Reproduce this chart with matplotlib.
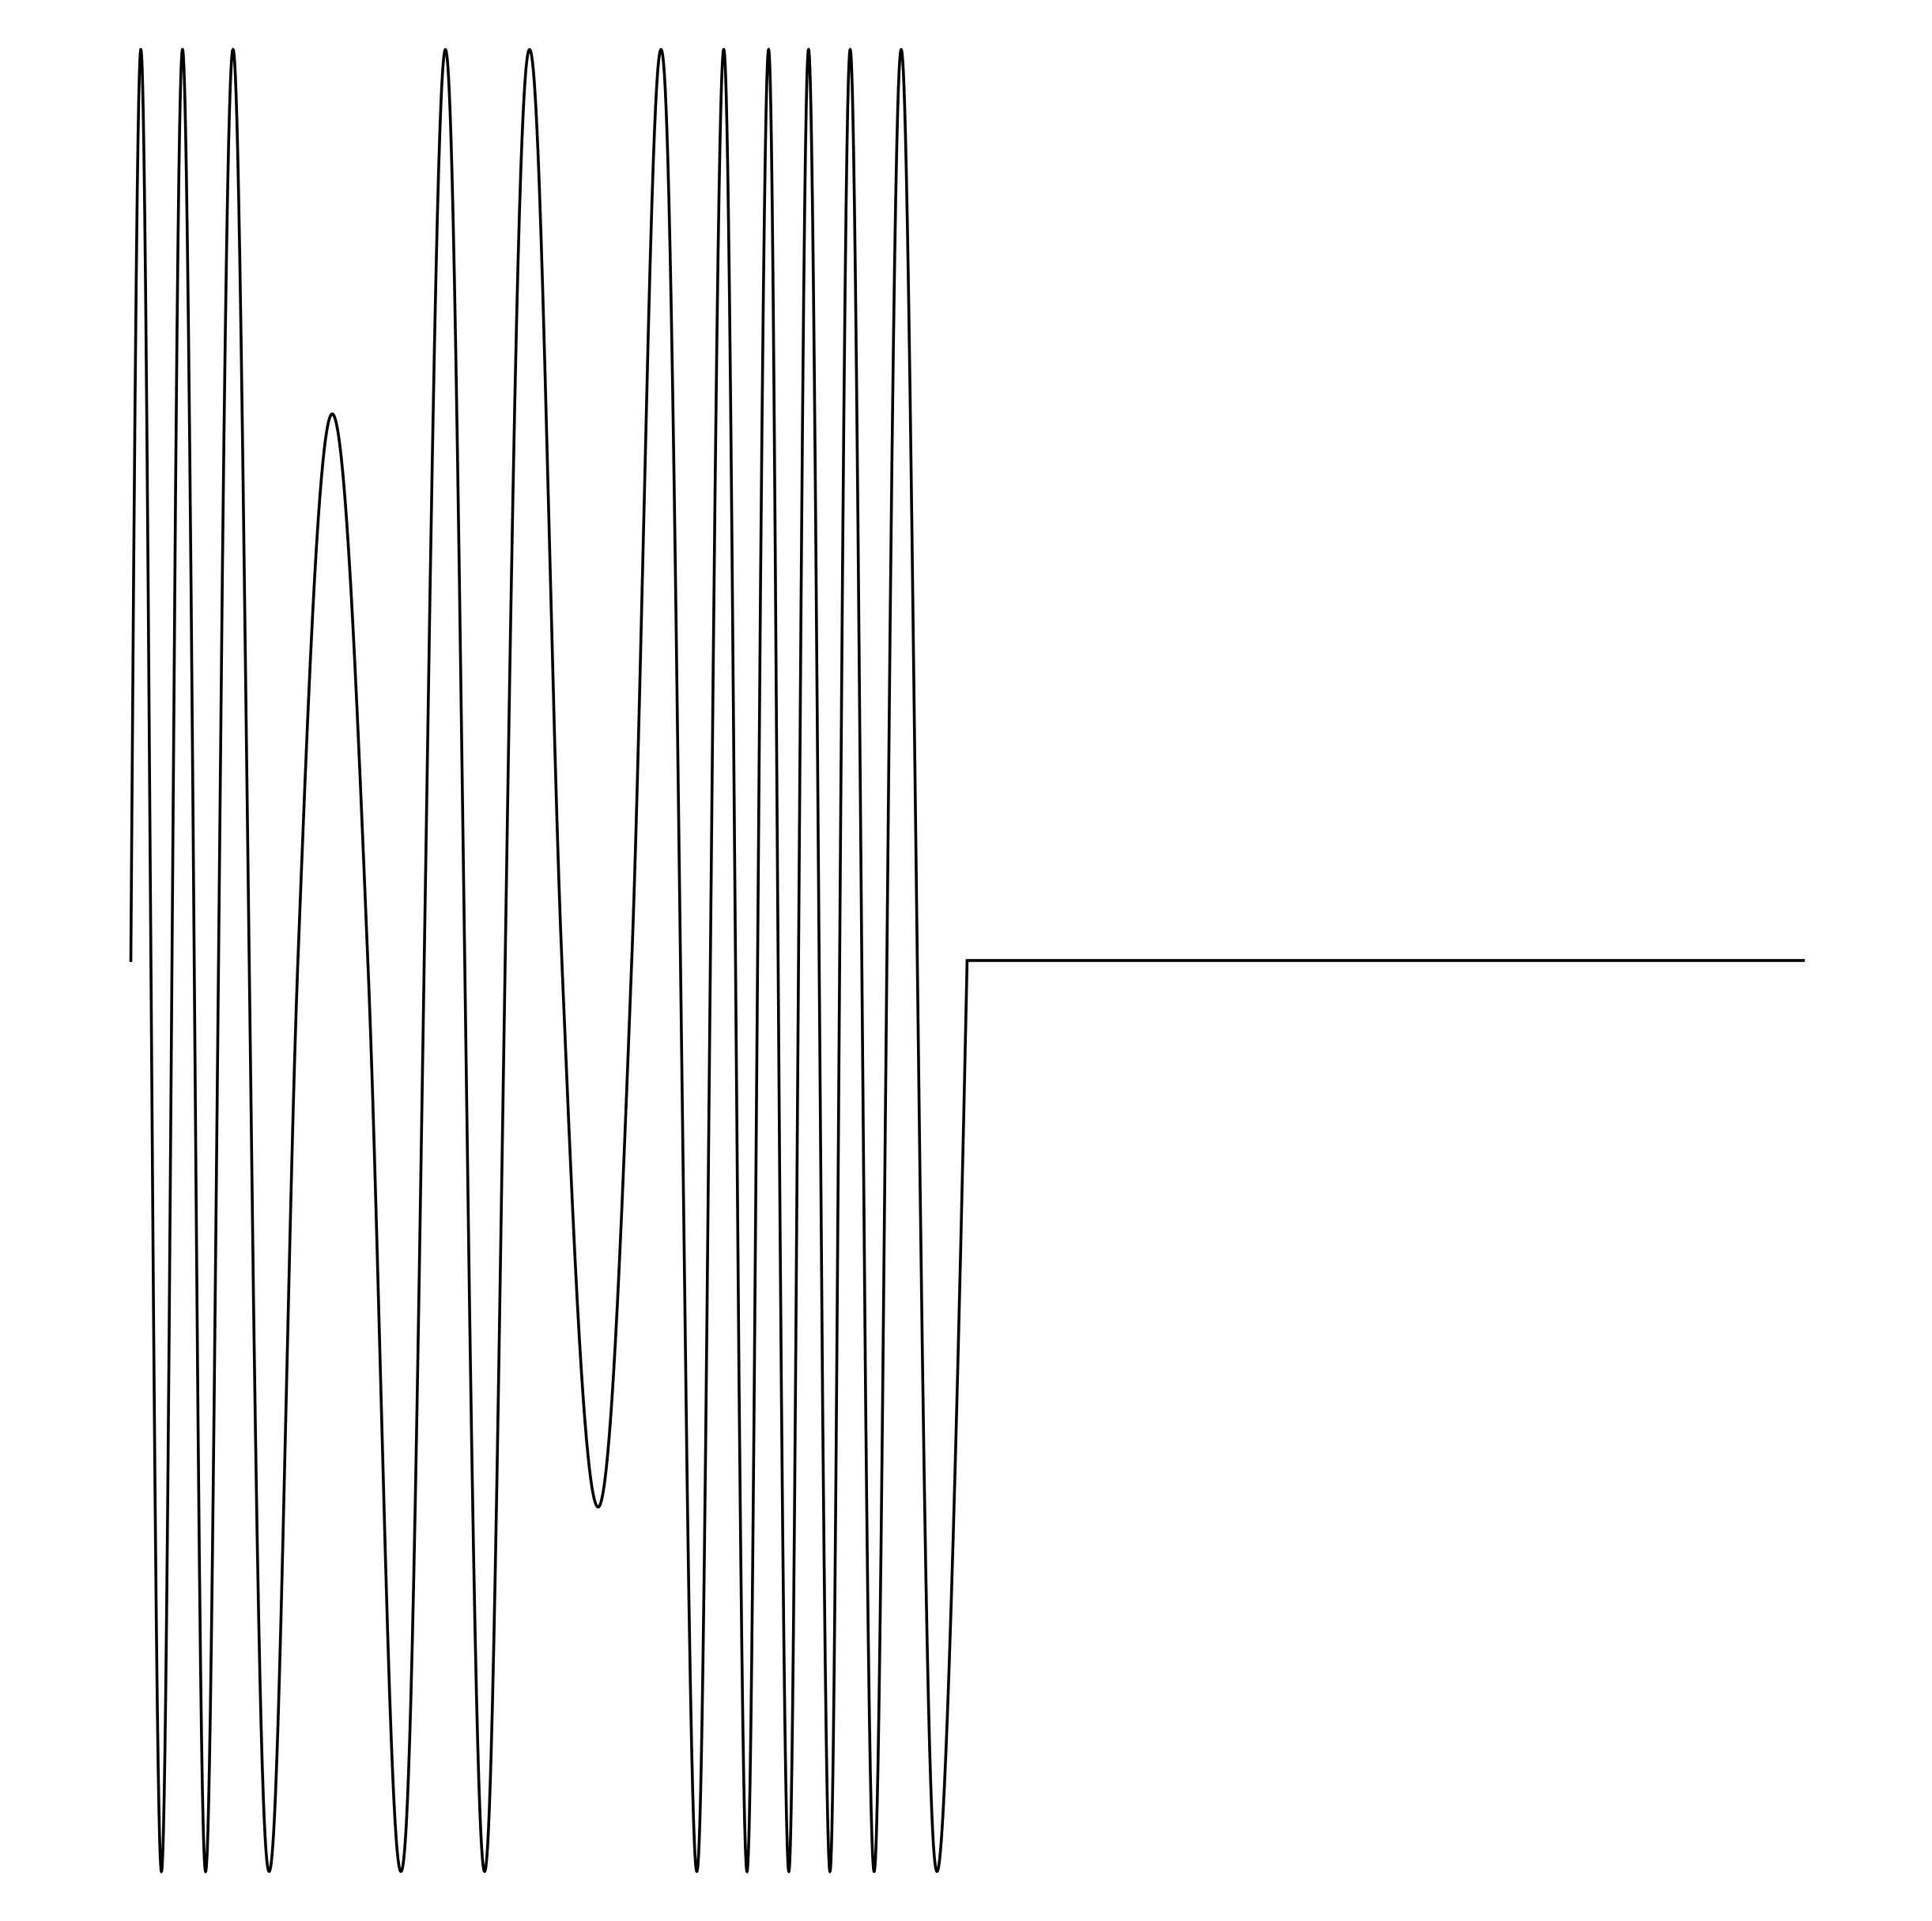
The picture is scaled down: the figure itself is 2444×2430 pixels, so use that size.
import numpy as np
import matplotlib
matplotlib.use("Agg")
import matplotlib.pyplot as plt

# peaks / troughs of the waveform (time in s, amplitude)
PEAK_T = [0.0060, 0.0183, 0.0309, 0.0447, 0.0611, 0.0827, 0.1204, 0.1615,
          0.1881, 0.2115, 0.2384, 0.2794, 0.3170, 0.3384, 0.3545, 0.3684,
          0.3813, 0.3934, 0.4052, 0.4180, 0.4301, 0.4444, 0.4606, 0.4820]
PEAK_Y = [1, -1, 1, -1, 1, -1, 0.6, -1,
          1, -1, 1, -0.6, 1, -1, 1, -1,
          1, -1, 1, -1, 1, -1, 1, -1]
# zero crossings (first = start of signal, last = where it stops)
ZERO_T = [0.0, 0.0120, 0.0246, 0.0379, 0.0524, 0.0707, 0.0999, 0.1417,
          0.1754, 0.1996, 0.2238, 0.2577, 0.2995, 0.3286, 0.3465, 0.3615,
          0.3747, 0.3870, 0.3992, 0.4115, 0.4238, 0.4370, 0.4520, 0.4702, 0.5]
T_END = 1.0  # flat after the signal stops

W, H = 2444, 2430
X0_PX, X1_PX = 165.5, 2281.3   # where t=0 and t=1 land
YTOP_PX, YBOT_PX = 62.7, 2367.3  # where +1 and -1 land


def next_phase(prev, val, d):
    # nearest phase past prev (in direction d) with sin(phase) == val
    a = np.arcsin(val)
    ks = np.arange(-2, 40)
    cand = np.concatenate([a + 2 * np.pi * ks, np.pi - a + 2 * np.pi * ks])
    if d > 0:
        return cand[cand > prev + 1e-9].min()
    return cand[cand < prev - 1e-9].max()


def pchip(x, y, xq):
    x = np.asarray(x); y = np.asarray(y)
    h = np.diff(x)
    dl = np.diff(y) / h
    m = np.zeros_like(y)
    m[0], m[-1] = dl[0], dl[-1]
    for k in range(1, len(x) - 1):
        if dl[k - 1] * dl[k] > 0:
            w1 = 2 * h[k] + h[k - 1]
            w2 = h[k] + 2 * h[k - 1]
            m[k] = (w1 + w2) / (w1 / dl[k - 1] + w2 / dl[k])
    i = np.clip(np.searchsorted(x, xq) - 1, 0, len(x) - 2)
    s = (xq - x[i]) / h[i]
    h00 = 2 * s**3 - 3 * s**2 + 1
    h10 = s**3 - 2 * s**2 + s
    h01 = -2 * s**3 + 3 * s**2
    h11 = s**3 - s**2
    return h00 * y[i] + h10 * h[i] * m[i] + h01 * y[i + 1] + h11 * h[i] * m[i + 1]


# knots: zero, extremum, zero, extremum, ...
knot_t, knot_y = [], []
for i, z in enumerate(ZERO_T):
    knot_t.append(z); knot_y.append(0.0)
    if i < len(PEAK_T):
        knot_t.append(PEAK_T[i]); knot_y.append(PEAK_Y[i])

# phase at each knot; phase turns back after a partial extremum
phase = [0.0]
d = 1
for k in range(1, len(knot_y)):
    phase.append(next_phase(phase[-1], knot_y[k], d))
    if 0 < abs(knot_y[k]) < 1:
        d = -d

t = np.linspace(0, ZERO_T[-1], 20000)
y = np.sin(pchip(knot_t, phase, t))
t = np.append(t, T_END)
y = np.append(y, 0.0)

fig = plt.figure(figsize=(W / 100, H / 100), dpi=100)
ax = fig.add_axes([0, 0, 1, 1])
ax.plot(t, y, color="black", lw=2.6, solid_joinstyle="miter")

sx = (X1_PX - X0_PX)
ax.set_xlim(-X0_PX / sx, (W - X0_PX) / sx)
sy = (YBOT_PX - YTOP_PX) / 2
yc = H - (YTOP_PX + YBOT_PX) / 2
ax.set_ylim(-yc / sy, (H - yc) / sy)
ax.axis("off")

fig.savefig("out.png", dpi=100, facecolor="white")
